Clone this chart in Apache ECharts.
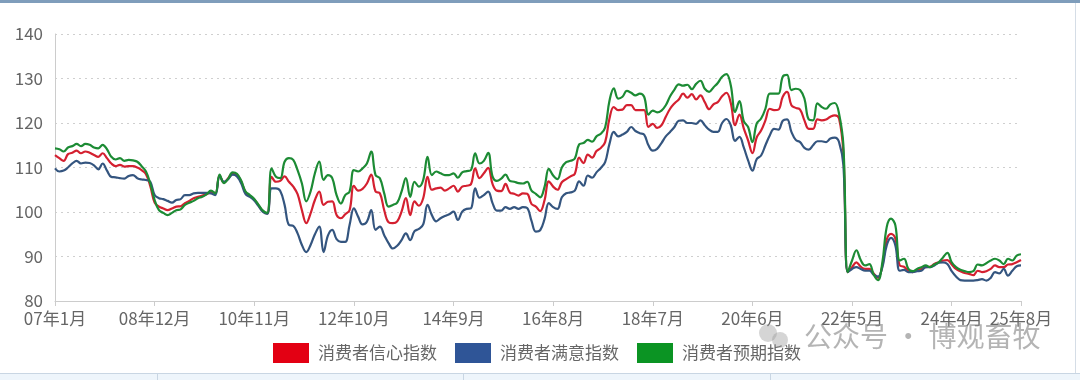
<!DOCTYPE html>
<html>
<head>
<meta charset="utf-8">
<script src="https://cdn.jsdelivr.net/npm/echarts@6/dist/echarts.min.js"></script>
<style>
html,body{margin:0;padding:0;background:#fff;}
#c{width:1080px;height:380px;}
</style>
</head>
<body>
<div id="c"></div>
<script>
// ---- data ----
const startYear = 2007, startMonth = 1, monthCount = 224;
const categories = [];
for (let k = 0; k < monthCount; k++) {
  const y = startYear + Math.floor((startMonth - 1 + k) / 12);
  const m = (startMonth - 1 + k) % 12 + 1;
  categories.push(String(y % 100).padStart(2, '0') + '年' + m + '月');
}
const tickLabels = ['07年1月','08年12月','10年11月','12年10月','14年9月','16年8月','18年7月','20年6月','22年5月','24年4月','25年8月'];
const yTicks = [80, 90, 100, 110, 120, 130, 140];
const seriesNames = ['消费者信心指数', '消费者满意指数', '消费者预期指数'];

const confidence = [
  112.8,112.1,111.5,113.0,113.3,113.8,113.2,113.6,113.3,112.8,112.4,113.2,
  112.1,110.9,110.3,110.6,110.2,110.3,110.3,110.0,109.4,108.5,105.8,102.1,
  101.2,100.8,100.4,100.8,101.2,101.3,102.0,102.5,103.1,103.4,103.7,104.0,
  104.5,104.2,108.2,106.6,107.6,108.7,108.4,106.8,104.4,103.6,102.8,101.5,
  100.2,99.7,107.9,106.8,107.0,108.0,106.8,105.7,104.0,100.4,97.5,99.7,
  102.7,104.6,101.6,102.3,102.4,99.3,98.6,99.5,100.4,105.9,104.8,105.2,
  106.4,108.4,104.6,104.2,100.4,97.7,97.5,97.9,100.1,103.1,99.3,102.4,
  101.4,103.1,107.9,105.0,105.3,105.5,104.8,105.3,105.9,104.6,105.7,105.9,
  106.2,109.8,107.6,108.7,109.9,106.3,104.8,104.7,106.3,104.4,104.1,103.7,
  104.2,104.1,101.8,101.2,100.2,102.6,106.9,105.7,105.0,106.7,107.4,108.0,
  108.6,112.2,111.0,112.9,112.2,113.7,114.4,115.7,121.0,123.6,122.9,123.0,
  124.0,124.0,122.9,122.9,122.9,119.1,119.8,118.9,119.5,121.4,123.2,124.4,
  125.3,126.6,125.7,126.5,125.3,126.2,124.7,123.1,124.2,124.7,126.0,126.8,
  124.5,119.5,121.9,118.8,116.1,113.2,116.8,118.3,120.6,123.2,122.9,123.0,
  125.9,127.0,124.0,123.4,123.0,120.6,118.7,118.7,120.8,120.6,120.8,121.4,
  121.7,121.0,113.2,86.5,87.6,88.7,87.7,87.2,87.2,86.2,85.2,88.0,
  93.8,95.1,94.0,88.0,87.7,86.8,86.5,87.0,87.2,87.6,87.7,88.3,
  88.7,89.1,89.2,88.2,87.2,86.7,86.3,86.1,85.8,86.8,86.5,86.7,
  87.2,88.0,87.6,87.6,88.2,88.3,88.7,89.2
];
const satisfaction = [
  109.8,109.1,109.3,110.0,110.9,111.5,110.9,111.1,111.0,110.5,109.6,110.9,
  109.3,107.9,107.8,107.6,107.5,108.1,108.3,107.6,107.3,107.2,106.8,103.8,
  103.1,102.9,102.5,102.1,102.7,102.9,103.8,103.8,104.2,104.3,104.3,104.3,
  104.2,103.8,108.0,106.8,107.4,108.4,108.0,106.4,104.0,103.4,102.6,101.3,
  100.0,99.6,105.3,105.3,104.7,101.6,97.1,96.9,95.2,92.6,91.0,92.6,
  95.0,96.7,91.0,94.7,96.0,93.9,93.3,93.3,97.1,100.8,98.9,97.2,
  97.8,100.4,96.0,96.7,94.8,93.0,91.8,92.4,93.7,95.2,93.7,95.7,
  96.2,97.2,101.6,99.3,97.9,98.6,99.1,99.5,100.1,98.2,100.1,100.7,
  100.8,105.3,103.2,103.8,104.6,102.0,100.3,100.3,101.1,100.7,101.1,100.7,
  101.1,100.9,98.0,95.6,95.9,98.4,102.0,101.1,100.7,103.3,104.2,104.4,
  104.8,106.9,105.9,108.2,107.7,108.9,109.9,111.2,115.3,118.0,117.0,117.4,
  118.0,119.1,118.2,117.7,117.4,115.0,113.8,114.2,115.5,117.0,118.0,119.1,
  120.5,120.6,120.0,120.0,119.8,120.6,119.5,118.5,118.0,118.0,120.0,120.9,
  119.5,116.0,116.9,114.5,111.6,109.3,111.9,112.7,115.0,117.2,118.7,118.5,
  120.5,120.8,118.0,116.2,115.7,114.4,114.0,115.0,115.9,115.9,115.7,116.5,
  116.7,115.7,110.5,86.5,87.2,87.6,87.2,86.8,86.8,85.9,85.5,87.6,
  92.5,94.2,92.5,86.8,87.0,86.5,86.5,86.7,86.8,87.6,87.6,88.0,
  88.6,88.7,88.3,86.7,85.5,84.7,84.6,84.6,84.6,84.7,84.9,84.6,
  85.2,86.5,86.2,87.2,85.7,86.8,87.8,88.0
];
const expectation = [
  114.3,114.1,113.6,114.5,114.8,115.3,114.8,115.3,115.1,114.5,114.3,115.1,
  114.1,112.4,111.8,112.1,111.5,111.7,111.6,111.3,110.3,109.1,106.4,102.7,
  100.4,99.8,99.3,99.8,100.4,100.6,101.6,102.1,102.5,103.1,103.4,104.0,
  104.8,104.2,108.4,106.5,107.5,108.9,108.6,107.0,104.6,103.8,102.9,101.6,
  100.3,99.8,109.8,107.9,107.6,111.3,112.1,111.7,109.4,106.4,102.4,104.6,
  108.7,111.3,107.2,108.3,107.6,103.8,101.9,103.8,104.6,109.4,109.1,109.8,
  110.9,113.6,108.3,107.6,104.2,101.2,101.6,102.1,104.6,107.6,103.4,106.8,
  105.7,107.2,112.4,108.3,109.1,108.7,108.3,108.3,108.7,107.7,108.9,109.2,
  109.4,113.2,110.9,111.5,113.3,108.0,107.0,107.5,108.4,107.0,106.8,106.5,
  106.4,106.8,104.8,104.1,103.3,105.6,109.7,108.2,107.4,110.0,111.2,111.5,
  112.0,115.2,115.5,116.2,115.8,117.0,117.6,119.0,125.0,127.8,125.5,125.9,
  127.2,126.8,126.2,126.6,125.9,121.9,122.8,122.4,122.8,124.0,126.0,127.5,
  128.7,128.4,128.6,127.6,128.8,129.5,127.7,127.0,128.0,129.0,130.4,131.0,
  128.5,122.5,124.9,120.4,119.1,115.7,119.9,121.0,123.2,126.6,126.6,126.6,
  130.4,130.8,127.4,127.7,127.4,125.5,120.8,120.6,124.4,123.6,123.2,124.2,
  124.5,122.1,115.0,86.5,89.1,91.4,89.2,88.0,88.3,85.9,84.7,88.7,
  96.6,98.5,97.0,89.1,89.5,87.2,86.7,87.2,87.6,88.0,87.6,88.2,
  88.7,89.8,90.8,88.7,87.6,87.0,86.7,86.5,86.7,88.2,88.0,88.5,
  89.1,89.5,89.1,88.3,89.5,89.1,90.2,90.5
];

const legendColors = ['#e30013', '#2f5597', '#0b9423'];
const lineColors = ['#d42030', '#34557f', '#1c8b34'];
const FONT = '"Noto Sans CJK SC", "Noto Sans", sans-serif';

const chart = echarts.init(document.getElementById('c'), null, {renderer: 'canvas'});
const seriesData = [confidence, satisfaction, expectation];

chart.setOption({
  backgroundColor: '#ffffff',
  animation: false,
  textStyle: {fontFamily: FONT},
  grid: {left: 55, right: 59, top: 34, bottom: 79, containLabel: false},
  legend: {
    left: 268, top: 338,
    itemWidth: 36, itemHeight: 20, itemGap: 18,
    icon: 'rect',
    textStyle: {fontSize: 17, color: '#666', fontFamily: FONT, padding: [0, 0, 0, 4]},
    data: seriesNames
  },
  xAxis: {
    type: 'category',
    data: categories,
    boundaryGap: false,
    axisLine: {lineStyle: {color: '#cccccc', width: 1}},
    axisTick: {
      show: true, length: 5, lineStyle: {color: '#cccccc'},
      interval: (i, v) => tickLabels.indexOf(v) >= 0
    },
    axisLabel: {
      color: '#666', fontSize: 17, margin: 9, fontFamily: FONT,
      interval: (i, v) => tickLabels.indexOf(v) >= 0
    },
    splitLine: {show: false}
  },
  yAxis: {
    type: 'value',
    min: yTicks[0], max: yTicks[yTicks.length - 1], interval: 10,
    axisLine: {show: true, lineStyle: {color: '#cccccc'}},
    axisTick: {show: false},
    axisLabel: {color: '#666', fontSize: 17, margin: 12, fontFamily: FONT},
    splitLine: {show: true, lineStyle: {color: '#cfcfcf', type: [2, 4], width: 1}}
  },
  series: seriesNames.map((n, k) => ({
    name: n,
    type: 'line',
    data: seriesData[k],
    smooth: 0.4,
    showSymbol: false,
    symbol: 'none',
    itemStyle: {color: legendColors[k]},
    lineStyle: {color: lineColors[k], width: 2.2},
    z: 2 + k
  })),
  graphic: [
    {type: 'rect', left: 0, top: 0, shape: {width: 1080, height: 3}, style: {fill: '#7f9dbb'}, z: 100},
    {type: 'rect', left: 1075, top: 3, shape: {width: 1, height: 370}, style: {fill: '#d5dde6'}, z: 100},
    {type: 'rect', left: 0, top: 373, shape: {width: 1080, height: 7}, style: {fill: '#eef5fb'}, z: 100},
    {type: 'rect', left: 0, top: 373, shape: {width: 1080, height: 1}, style: {fill: '#c9d6e3'}, z: 100},
    {type: 'rect', left: 157, top: 373, shape: {width: 1, height: 7}, style: {fill: '#c9d6e3'}, z: 100},
    {type: 'rect', left: 463, top: 373, shape: {width: 1, height: 7}, style: {fill: '#c9d6e3'}, z: 100},
    {type: 'rect', left: 770, top: 373, shape: {width: 1, height: 7}, style: {fill: '#c9d6e3'}, z: 100},
    {type: 'circle', shape: {cx: 768, cy: 333, r: 9}, style: {fill: 'rgba(150,150,150,0.4)'}, z: 100},
    {type: 'circle', shape: {cx: 780, cy: 340, r: 8}, style: {fill: 'rgba(150,150,150,0.4)'}, z: 100},
    {type: 'text', left: 804, top: 322, style: {text: '公众号 · 博观畜牧', fontSize: 28, fontFamily: FONT, fill: 'rgba(140,140,140,0.65)'}, z: 100}
  ]
});
</script>
</body>
</html>
